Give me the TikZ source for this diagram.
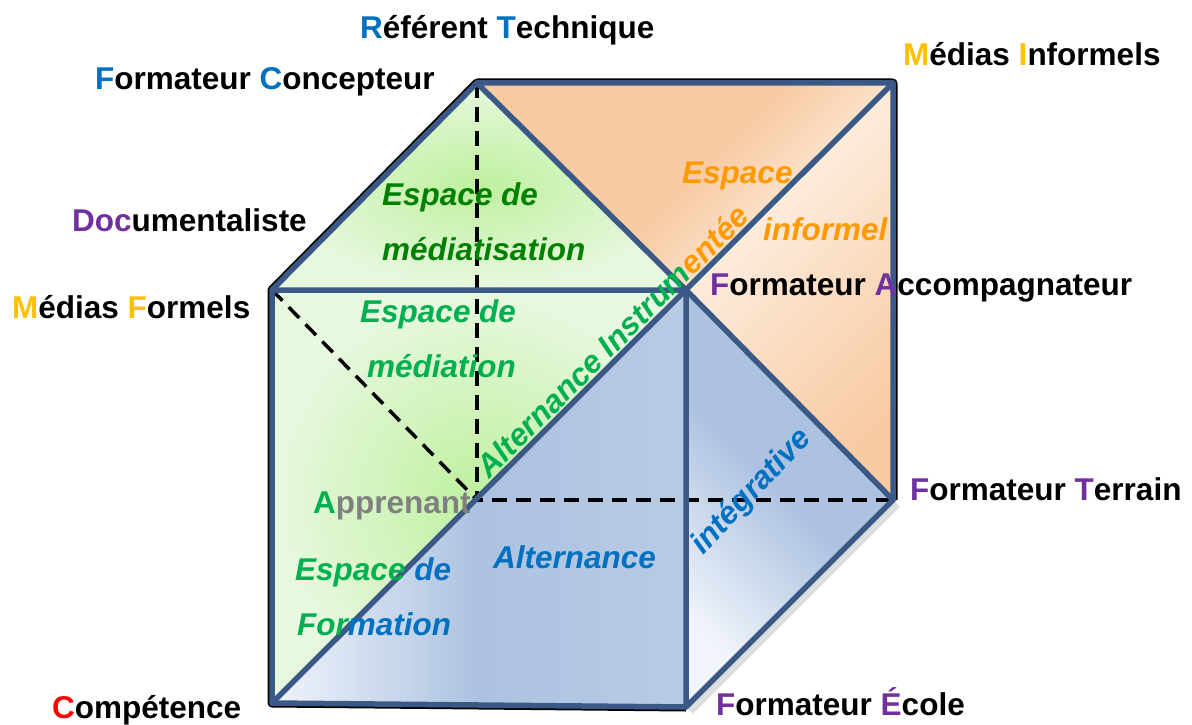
\documentclass[tikz,border=0pt]{standalone}
\usepackage{fontspec}
\setmainfont{Liberation Sans}
\definecolor{edgeblue}{RGB}{59,89,135}
\definecolor{capblue}{RGB}{0,112,192}
\definecolor{capviolet}{RGB}{112,48,160}
\definecolor{capgold}{RGB}{255,192,0}
\definecolor{capred}{RGB}{255,0,0}
\definecolor{leafgreen}{RGB}{0,176,80}
\definecolor{darkleaf}{RGB}{0,128,0}
\definecolor{tangerine}{RGB}{255,153,0}
\definecolor{ashgray}{RGB}{128,128,128}
\definecolor{greenin}{RGB}{190,240,158}
\definecolor{greenout}{RGB}{232,248,224}
\definecolor{peach}{RGB}{248,203,163}
\definecolor{peachpale}{RGB}{255,247,240}
\definecolor{bluedeep}{RGB}{172,194,224}
\definecolor{bluepale}{RGB}{240,244,251}

\begin{document}
\begin{tikzpicture}[
  x=1pt, y=-1pt,
  lab/.style={font=\fontsize{31.5}{36}\selectfont\bfseries, anchor=base west, inner sep=0pt},
  esp/.style={lab, font=\fontsize{31.5}{36}\selectfont\bfseries\itshape},
  rim/.style={draw=edgeblue, line width=5.5pt, line join=round, line cap=round},
  hid/.style={draw=black, line width=3.5pt, dash pattern=on 15pt off 9pt}]
  \useasboundingbox (0,0) rectangle (1192,725);
  % cube corners
  \coordinate (A) at (272,703);
  \coordinate (B) at (686,707);
  \coordinate (C) at (686,290);
  \coordinate (D) at (272,290);
  \coordinate (E) at (477,83);
  \coordinate (F) at (893,83);
  \coordinate (G) at (893,500);
  \coordinate (H) at (477,500);
  % outline and shadow
  \draw[black!25, line width=8pt, opacity=0.5] ([shift={(4,4)}]G) -- ([shift={(4,4)}]B);
  \draw[black, line width=9pt, line join=round] (B) -- (A) -- (D) -- (E) -- (F) -- (G);
  % faces
  \shade[inner color=greenin, outer color=greenout] (D) -- (E) -- (C) -- cycle;
  \shade[inner color=greenin, outer color=greenout] (A) -- (D) -- (C) -- cycle;
  \shade[top color=peach, bottom color=peachpale, middle color=peach, shading angle=45] (E) -- (F) -- (C) -- cycle;
  \shade[top color=peachpale, bottom color=peach, shading angle=45] (C) -- (F) -- (G) -- cycle;
  \shade[left color=bluepale, right color=bluedeep!85!white, middle color=bluedeep] (A) -- (B) -- (C) -- cycle;
  \shade[top color=bluedeep, bottom color=bluepale, middle color=bluedeep, shading angle=-45] (C) -- (G) -- (B) -- cycle;
  % hidden edges
  \draw[hid] (E) -- (H) -- (G);
  \draw[hid] (D) -- (H);
  % visible edges
  \draw[rim] (A) -- (B) -- (C) -- (D) -- cycle;
  \draw[rim] (D) -- (E) -- (F) -- (G) -- (B);
  \draw[rim] (E) -- (C) -- (G);
  \draw[rim] (A) -- (F);
  % spaces
  \node[esp, text=darkleaf] (med1) at (382,205) {Espace de};
  \node[esp, text=darkleaf] (med2) at (382,260) {médiatisation};
  \node[esp, text=leafgreen] (mdn1) at (360,322) {Espace de};
  \node[esp, text=leafgreen] (mdn2) at (367,377) {médiation};
  \node[esp, text=tangerine] (inf1) at (682,183) {Espace};
  \node[esp, text=tangerine] (inf2) at (763,240) {informel};
  \node[esp, text=capblue] (alt) at (493,568) {Alternance};
  \node[esp] (for1) at (295,580) {\textcolor{leafgreen}{Espace }\textcolor{capblue}{de}};
  \node[esp] (for2) at (297,635) {\textcolor{leafgreen}{For}\textcolor{capblue}{mation}};
  \path (A) -- (F) node[esp, anchor=south, sloped, pos=0.566, inner sep=4pt] (instr)
    {\textcolor{leafgreen}{Alternance Instrum}\textcolor{tangerine}{entée}};
  \node[esp, text=capblue, anchor=center, rotate=47] (integ) at (752,492) {intégrative};
  % actors
  \node[lab] (ref) at (360,39) {\textcolor{capblue}{R}éférent \textcolor{capblue}{T}echnique};
  \node[lab] (conc) at (95,89) {\textcolor{capblue}{F}ormateur \textcolor{capblue}{C}oncepteur};
  \node[lab] (doc) at (72,231) {\textcolor{capviolet}{Doc}umentaliste};
  \node[lab] (mfor) at (12,318) {\textcolor{capgold}{M}édias \textcolor{capgold}{F}ormels};
  \node[lab] (comp) at (52,718) {\textcolor{capred}{C}ompétence};
  \node[lab] (minf) at (903,66) {\textcolor{capgold}{M}édias \textcolor{capgold}{I}nformels};
  \node[lab] (acc) at (710,295) {\textcolor{capviolet}{F}ormateur \textcolor{capviolet}{A}ccompagnateur};
  \node[lab] (ter) at (910,500) {\textcolor{capviolet}{F}ormateur \textcolor{capviolet}{T}errain};
  \node[lab] (eco) at (716,715) {\textcolor{capviolet}{F}ormateur \textcolor{capviolet}{É}cole};
  \node[lab] (app) at (313,513) {\textcolor{leafgreen}{A}\textcolor{ashgray}{pprenant}};
\end{tikzpicture}
\end{document}
